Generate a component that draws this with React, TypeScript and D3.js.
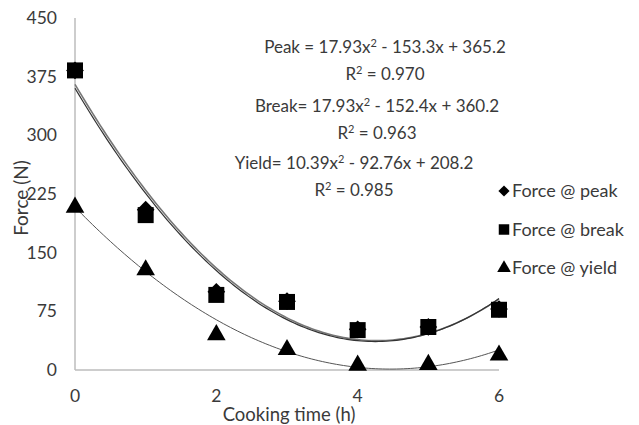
import React from 'react';
import * as d3 from 'd3';

const hours = [0, 1, 2, 3, 4, 5, 6];
const forcePeak = [383, 205, 100, 88, 52, 55, 78];
const forceBreak = [383, 198, 96, 87, 51, 55, 77];
const forceYield = [208, 128, 45, 26, 6, 7, 19];

const xTicks = [0, 2, 4, 6];
const yTicks = [0, 75, 150, 225, 300, 375, 450];

// quadratic trendline coefficients [a, b, c] for a*x^2 + b*x + c
const peakFit = [17.93, -153.3, 365.2];
const breakFit = [17.93, -152.4, 360.2];
const yieldFit = [10.39, -92.76, 208.2];

const equations = [
  { name: 'Peak = ', fit: '17.93x', rest: ' - 153.3x + 365.2', r2: '0.970', cx: 385, y: 53 },
  { name: 'Break= ', fit: '17.93x', rest: ' - 152.4x + 360.2', r2: '0.963', cx: 377, y: 112 },
  { name: 'Yield= ', fit: '10.39x', rest: ' - 92.76x + 208.2', r2: '0.985', cx: 354, y: 169 },
];

const legendItems = [
  { label: 'Force @ peak', shape: d3.symbolDiamond2 },
  { label: 'Force @ break', shape: d3.symbolSquare },
  { label: 'Force @ yield', shape: d3.symbolTriangle },
];

const font = 'Lato, "Open Sans", sans-serif';
const textColor = '#3a3a3a';

export default function App() {
  const width = 639, height = 425;
  const x = d3.scaleLinear().domain([0, 6]).range([75, 499]);
  const y = d3.scaleLinear().domain([0, 450]).range([370, 18]);

  const curve = (fit: number[]) => {
    const pts = d3.range(0, 6.001, 0.05).map(t => [t, fit[0] * t * t + fit[1] * t + fit[2]] as [number, number]);
    return d3.line<[number, number]>().x(d => x(d[0])).y(d => y(d[1]))(pts) || '';
  };

  const sym = (shape: d3.SymbolType, size: number) => d3.symbol().type(shape).size(size)() || '';

  return (
    <svg width={width} height={height} style={{ position: 'absolute', left: 0, top: 0 }}>
      <rect width={width} height={height} fill="#fff" />
      {/* axes */}
      <line x1={x(0)} x2={x(0)} y1={y(450)} y2={y(0)} stroke="#bdbdbd" strokeWidth={1.5} />
      <line x1={x(0)} x2={x(6)} y1={y(0)} y2={y(0)} stroke="#bdbdbd" strokeWidth={1.5} />
      {yTicks.map(t => (
        <text key={t} x={57} y={y(t) + 6} textAnchor="end" fontSize={17.5} fontFamily={font} fill={textColor}>{t}</text>
      ))}
      {xTicks.map(t => (
        <text key={t} x={x(t)} y={402} textAnchor="middle" fontSize={17.5} fontFamily={font} fill={textColor}>{t}</text>
      ))}
      <text x={289} y={421} textAnchor="middle" fontSize={18.5} fontFamily={font} fill={textColor}>Cooking time (h)</text>
      <text transform={`translate(28,198) rotate(-90)`} textAnchor="middle" fontSize={19} fontFamily={font} fill={textColor}>Force (N)</text>

      {/* trendlines */}
      <path d={curve(peakFit)} fill="none" stroke="#777" strokeWidth={1.6} />
      <path d={curve(breakFit)} fill="none" stroke="#333" strokeWidth={1.2} />
      <path d={curve(yieldFit)} fill="none" stroke="#555" strokeWidth={1} />

      {/* markers */}
      {hours.map((h, i) => (
        <path key={'p' + i} d={sym(d3.symbolDiamond2, 200)} transform={`translate(${x(h)},${y(forcePeak[i])})`} fill="#000" />
      ))}
      {hours.map((h, i) => (
        <path key={'b' + i} d={sym(d3.symbolSquare, 256)} transform={`translate(${x(h)},${y(forceBreak[i])})`} fill="#000" />
      ))}
      {hours.map((h, i) => (
        <path key={'y' + i} d={sym(d3.symbolTriangle, 150)} transform={`translate(${x(h)},${y(forceYield[i])})`} fill="#000" />
      ))}

      {/* equations */}
      {equations.map(e => (
        <g key={e.name}>
          <text x={e.cx} y={e.y} textAnchor="middle" fontSize={17} fontFamily={font} fill={textColor}>
            {e.name}{e.fit}<tspan dy={-6} fontSize={11}>2</tspan><tspan dy={6}>{e.rest}</tspan>
          </text>
          <text x={e.cx} y={e.y + 27} textAnchor="middle" fontSize={17} fontFamily={font} fill={textColor}>
            R<tspan dy={-6} fontSize={11}>2</tspan><tspan dy={6}> = {e.r2}</tspan>
          </text>
        </g>
      ))}

      {/* legend */}
      {legendItems.map((l, i) => (
        <g key={l.label} transform={`translate(504,${191 + i * 38.5})`}>
          <path d={sym(l.shape, l.shape === d3.symbolSquare ? 110 : 80)} fill="#000" />
          <text x={8} y={6} fontSize={18} fontFamily={font} fill={textColor}>{l.label}</text>
        </g>
      ))}
    </svg>
  );
}
